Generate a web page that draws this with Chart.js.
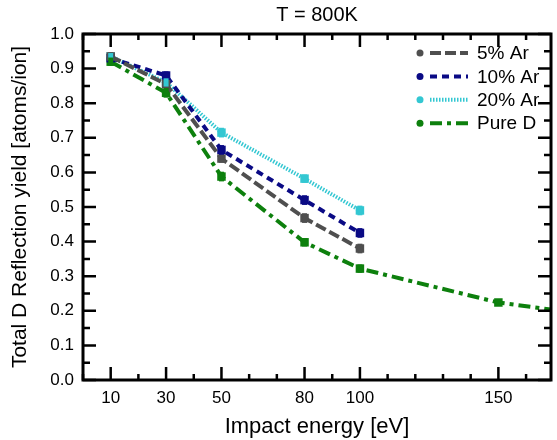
<!DOCTYPE html>
<html>
<head>
<meta charset="utf-8">
<script src="https://cdn.jsdelivr.net/npm/chart.js@4.4.1/dist/chart.umd.min.js"></script>
<style>
  html, body { margin: 0; padding: 0; background: #fff; }
</style>
</head>
<body>
<canvas id="myChart" width="557" height="440"></canvas>
<script>
// impact energy [eV]
var energyAr = [10, 30, 50, 80, 100];
var energyD = [10, 30, 50, 80, 100, 150, 200];

// total D reflection yield [atoms/ion]
var ar5 = [0.935, 0.855, 0.640, 0.468, 0.380];
var ar10 = [0.930, 0.880, 0.665, 0.520, 0.425];
var ar20 = [0.935, 0.860, 0.715, 0.582, 0.490];
var pureD = [0.920, 0.830, 0.588, 0.398, 0.322, 0.224, 0.170];

// error bar half heights
var err5 = [0.012, 0.010, 0.012, 0.014, 0.014];
var err10 = [0.010, 0.012, 0.014, 0.014, 0.014];
var err20 = [0.010, 0.012, 0.014, 0.012, 0.014];
var errD = [0.012, 0.014, 0.014, 0.012, 0.012, 0.010, 0.010];

var xTicks = [10, 30, 50, 80, 100, 150];
var yTicks = [0.0, 0.1, 0.2, 0.3, 0.4, 0.5, 0.6, 0.7, 0.8, 0.9, 1.0];
var xMax = 169;

Chart.defaults.font.family = '"Liberation Sans", Arial, Helvetica, sans-serif';
Chart.defaults.color = '#000';

function toXY(xs, ys) {
  return xs.map(function (x, i) { return { x: x, y: ys[i] }; });
}

function series(label, xs, ys, errs, color, dash) {
  return {
    label: label,
    data: toXY(xs, ys),
    errors: errs,
    borderColor: color,
    backgroundColor: color,
    borderWidth: 4,
    borderDash: dash,
    pointStyle: 'rect',
    pointRadius: 6,
    pointBorderWidth: 0,
    fill: false,
    tension: 0
  };
}

// 에러바 (세로 막대)
var errorBars = {
  id: 'errorBars',
  afterDatasetsDraw: function (chart) {
    var ctx = chart.ctx;
    var ys = chart.scales.y, xs = chart.scales.x;
    ctx.save();
    ctx.beginPath();
    ctx.rect(chart.chartArea.left, chart.chartArea.top,
      chart.chartArea.right - chart.chartArea.left, chart.chartArea.bottom - chart.chartArea.top);
    ctx.clip();
    chart.data.datasets.forEach(function (ds) {
      ctx.strokeStyle = ds.borderColor;
      ctx.lineWidth = 5;
      ctx.setLineDash([]);
      ds.data.forEach(function (p, i) {
        var e = ds.errors[i];
        var px = xs.getPixelForValue(p.x);
        ctx.beginPath();
        ctx.moveTo(px, ys.getPixelForValue(p.y - e));
        ctx.lineTo(px, ys.getPixelForValue(p.y + e));
        ctx.stroke();
      });
    });
    ctx.restore();
  }
};

// 테두리, 안쪽 눈금, 제목, 범례
var frameTicks = {
  id: 'frameTicks',
  afterDraw: function (chart) {
    var ctx = chart.ctx, a = chart.chartArea;
    var xs = chart.scales.x, ys = chart.scales.y;
    ctx.save();
    ctx.strokeStyle = '#000';
    ctx.lineWidth = 2.5;
    ctx.setLineDash([]);
    ctx.beginPath();
    for (var v = 0; v <= xMax; v += 10) {
      var px = xs.getPixelForValue(v);
      var len = xTicks.indexOf(v) >= 0 ? 13 : 6;
      ctx.moveTo(px, a.bottom); ctx.lineTo(px, a.bottom - len);
      ctx.moveTo(px, a.top); ctx.lineTo(px, a.top + len);
    }
    for (var i = 0; i <= 20; i++) {
      var py = ys.getPixelForValue(i * 0.05);
      var l = i % 2 === 0 ? 13 : 7;
      ctx.moveTo(a.left, py); ctx.lineTo(a.left + l, py);
      ctx.moveTo(a.right, py); ctx.lineTo(a.right - l, py);
    }
    ctx.stroke();
    ctx.lineWidth = 3;
    ctx.strokeRect(a.left, a.top, a.right - a.left, a.bottom - a.top);

    // 제목
    ctx.fillStyle = '#000';
    ctx.font = '20px "Liberation Sans", Arial, sans-serif';
    ctx.textAlign = 'center';
    ctx.textBaseline = 'middle';
    ctx.fillText('T = 800K', (a.left + a.right) / 2, 15);

    // 범례
    ctx.font = '19px "Liberation Sans", Arial, sans-serif';
    ctx.textAlign = 'left';
    chart.data.datasets.forEach(function (ds, k) {
      var y = a.top + 19 + k * 23.4;
      var x0 = a.right - 131;
      ctx.fillStyle = ds.borderColor;
      ctx.beginPath();
      ctx.arc(x0, y, 3.5, 0, Math.PI * 2);
      ctx.fill();
      ctx.strokeStyle = ds.borderColor;
      ctx.lineWidth = 4;
      ctx.setLineDash(ds.borderDash);
      ctx.beginPath();
      ctx.moveTo(x0 + 10, y);
      ctx.lineTo(x0 + 48, y);
      ctx.stroke();
      ctx.setLineDash([]);
      ctx.fillStyle = '#000';
      ctx.fillText(ds.label, x0 + 57, y + 1);
    });
    ctx.restore();
  }
};

new Chart(document.getElementById('myChart'), {
  type: 'line',
  data: {
    datasets: [
      series('5% Ar', energyAr, ar5, err5, '#4f4f4f', [11, 4]),
      series('10% Ar', energyAr, ar10, err10, '#0a0a85', [7, 5]),
      series('20% Ar', energyAr, ar20, err20, '#33c7d2', [1.5, 1.5]),
      series('Pure D', energyD, pureD, errD, '#0d800d', [12, 5, 4, 5])
    ]
  },
  options: {
    responsive: false,
    animation: false,
    layout: { padding: { top: 34, right: 4, left: 0, bottom: 0 } },
    plugins: {
      legend: { display: false },
      title: { display: false },
      tooltip: { enabled: false }
    },
    scales: {
      x: {
        type: 'linear',
        min: 0,
        max: xMax,
        afterBuildTicks: function (scale) {
          scale.ticks = xTicks.map(function (v) { return { value: v }; });
        },
        afterFit: function (scale) { scale.height = 60; },
        grid: { display: false, drawTicks: false },
        border: { display: false },
        ticks: { autoSkip: false, maxRotation: 0, padding: 8, font: { size: 17 } },
        title: { display: true, text: 'Impact energy [eV]', font: { size: 22 }, padding: { top: 4, bottom: 0 } }
      },
      y: {
        min: 0,
        max: 1,
        afterBuildTicks: function (scale) {
          scale.ticks = yTicks.map(function (v) { return { value: v }; });
        },
        afterFit: function (scale) { scale.width = 83; },
        grid: { display: false, drawTicks: false },
        border: { display: false },
        ticks: {
          padding: 9,
          font: { size: 17 },
          callback: function (v) { return Number(v).toFixed(1); }
        },
        title: { display: true, text: 'Total D Reflection yield [atoms/ion]', font: { size: 21 }, padding: { top: 8, bottom: 0 } }
      }
    }
  },
  plugins: [errorBars, frameTicks]
});
</script>
</body>
</html>
